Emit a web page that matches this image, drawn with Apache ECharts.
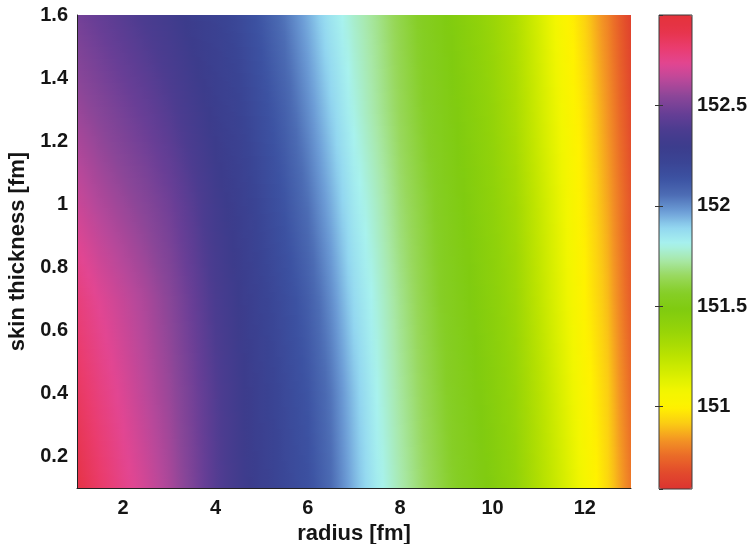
<!DOCTYPE html>
<html>
<head>
<meta charset="utf-8">
<title>skin thickness vs radius</title>
<script src="https://cdn.jsdelivr.net/npm/echarts@6/dist/echarts.min.js"></script>
<style>
  html, body { margin: 0; padding: 0; background: #ffffff; }
  #chart { width: 754px; height: 544px; }
</style>
</head>
<body>
<div id="chart"></div>
<script>
// Grid nodes of the computed surface
const radiusNodes = [1, 1.5, 2, 2.5, 3, 3.5, 4, 4.5, 5, 5.5, 6, 6.5, 7, 7.5, 8, 8.5, 9, 9.5, 10, 10.5, 11, 11.5, 12, 12.5, 13];
const thicknessNodes = [0.1, 0.4, 0.7, 1.0, 1.3, 1.6];

// Values along radius, one row per skin thickness node
const rowT010 = [152.88, 152.80, 152.73, 152.67, 152.60, 152.51, 152.41, 152.33, 152.26, 152.20, 152.15, 152.06, 151.94, 151.83, 151.74, 151.66, 151.59, 151.53, 151.47, 151.40, 151.29, 151.18, 151.06, 150.94, 150.78];
const rowT040 = [152.82, 152.75, 152.69, 152.63, 152.57, 152.49, 152.40, 152.32, 152.25, 152.19, 152.13, 152.04, 151.92, 151.81, 151.72, 151.64, 151.57, 151.51, 151.45, 151.38, 151.27, 151.15, 151.03, 150.92, 150.75];
const rowT070 = [152.76, 152.70, 152.65, 152.60, 152.54, 152.46, 152.37, 152.30, 152.23, 152.17, 152.10, 152.00, 151.88, 151.79, 151.70, 151.62, 151.55, 151.49, 151.43, 151.36, 151.24, 151.12, 151.00, 150.89, 150.72];
const rowT100 = [152.66, 152.61, 152.57, 152.53, 152.48, 152.41, 152.33, 152.27, 152.20, 152.13, 152.05, 151.95, 151.84, 151.76, 151.67, 151.60, 151.53, 151.47, 151.41, 151.34, 151.22, 151.10, 150.98, 150.86, 150.70];
const rowT130 = [152.57, 152.53, 152.49, 152.45, 152.40, 152.34, 152.28, 152.23, 152.16, 152.09, 152.00, 151.90, 151.80, 151.72, 151.64, 151.57, 151.51, 151.45, 151.39, 151.31, 151.19, 151.07, 150.96, 150.83, 150.67];
const rowT160 = [152.49, 152.45, 152.41, 152.37, 152.33, 152.28, 152.24, 152.19, 152.12, 152.04, 151.95, 151.85, 151.77, 151.70, 151.62, 151.55, 151.49, 151.43, 151.37, 151.29, 151.17, 151.04, 150.93, 150.80, 150.64];
const valueRows = [rowT010, rowT040, rowT070, rowT100, rowT130, rowT160];

// Colour scale (low -> high), evenly spaced over the colour range
const colorRange = [150.59, 152.95];
const colorbarColors = [
  '#dc3430', '#e24a2c', '#ea6a28', '#f39424', '#fbcc14', '#fff200',
  '#f2f600', '#d8ee00', '#bee400', '#a6da04', '#90d20a', '#80cb10',
  '#86ce26', '#98d85c', '#a8e8a8', '#a8f2ee', '#92d6f0', '#6c9cd6',
  '#4c6cb4', '#3c52a2', '#3a4494', '#3c3c8c', '#4c3c90', '#683e96',
  '#8a4698', '#b8489a', '#e24692', '#ea3c6e', '#e6344a', '#e4323a'
];

const FONT = '"Liberation Sans", Arial, Helvetica, sans-serif';
const INK = '#151515';

function hexToRgb(h) {
  return [parseInt(h.slice(1, 3), 16), parseInt(h.slice(3, 5), 16), parseInt(h.slice(5, 7), 16)];
}
const rgbStops = colorbarColors.map(hexToRgb);

// Same piecewise-linear mapping the continuous visualMap uses
function colorOf(v) {
  let t = (v - colorRange[0]) / (colorRange[1] - colorRange[0]);
  t = Math.max(0, Math.min(1, t));
  const p = t * (rgbStops.length - 1);
  const i = Math.min(Math.floor(p), rgbStops.length - 2);
  const f = p - i;
  const a = rgbStops[i], b = rgbStops[i + 1];
  return 'rgb(' + Math.round(a[0] + (b[0] - a[0]) * f) + ',' +
    Math.round(a[1] + (b[1] - a[1]) * f) + ',' +
    Math.round(a[2] + (b[2] - a[2]) * f) + ')';
}

// One item per band between two thickness rows: [xFirst, xLast, y0, y1, band]
const bands = [];
for (let j = 0; j < thicknessNodes.length - 1; j++) {
  bands.push([radiusNodes[0], radiusNodes[radiusNodes.length - 1], thicknessNodes[j], thicknessNodes[j + 1], j]);
}

// Smooth shading of a band: thin horizontal strips, each with a gradient through the nodes
function renderBand(params, api) {
  const x0 = api.value(0), y0 = api.value(2), y1 = api.value(3), j = api.value(4);
  const lower = valueRows[j], upper = valueRows[j + 1];
  const yTop = Math.round(api.coord([x0, y1])[1]);
  const yBot = Math.round(api.coord([x0, y0])[1]);
  const xs = radiusNodes.map(function (r) { return api.coord([r, y0])[0]; });
  const xL = Math.round(xs[0]), xR = Math.round(xs[xs.length - 1]);
  const sub = 4;
  const children = [];
  for (let ya = yTop; ya < yBot; ya += 2) {
    const yb = Math.min(ya + 2, yBot);
    const t = (yBot - (ya + yb) / 2) / (yBot - yTop);
    const colorStops = [];
    for (let i = 0; i < xs.length - 1; i++) {
      const vl = lower[i] + (upper[i] - lower[i]) * t;
      const vr = lower[i + 1] + (upper[i + 1] - lower[i + 1]) * t;
      for (let k = 0; k < sub; k++) {
        const u = k / sub;
        const px = xs[i] + (xs[i + 1] - xs[i]) * u;
        colorStops.push({ offset: (px - xL) / (xR - xL), color: colorOf(vl + (vr - vl) * u) });
      }
    }
    const last = xs.length - 1;
    colorStops.push({ offset: 1, color: colorOf(lower[last] + (upper[last] - lower[last]) * t) });
    children.push({
      type: 'rect',
      shape: { x: xL, y: ya, width: xR - xL, height: yb - ya },
      style: { fill: { type: 'linear', x: 0, y: 0, x2: 1, y2: 0, colorStops: colorStops } },
      silent: true
    });
  }
  return { type: 'group', children: children };
}

const tickStyle = { fontFamily: FONT, fontWeight: 'bold', fontSize: 20, color: INK };
const titleStyle = { fontFamily: FONT, fontWeight: 'bold', fontSize: 22, color: INK };

const chart = echarts.init(document.getElementById('chart'), null, { renderer: 'canvas' });
chart.setOption({
  backgroundColor: '#ffffff',
  animation: false,
  grid: [
    { left: 77, right: 123, top: 15, bottom: 56, show: false,
      containLabel: false, outerBoundsMode: 'none' },
    { left: 659, width: 33, top: 15, bottom: 55, show: true, z: 10,
      containLabel: false, outerBoundsMode: 'none',
      backgroundColor: 'transparent', borderColor: '#3a3a3a', borderWidth: 1 }
  ],
  xAxis: [
    {
      gridIndex: 0, type: 'value', min: 1, max: 13, z: 10,
      name: 'radius [fm]', nameLocation: 'middle', nameGap: 32,
      nameTextStyle: titleStyle,
      axisLine: { show: true, lineStyle: { color: '#222', width: 1 } },
      axisTick: { show: false },
      splitLine: { show: false },
      axisLabel: Object.assign({ margin: 10, showMinLabel: false, showMaxLabel: false }, tickStyle)
    },
    { gridIndex: 1, type: 'value', min: 0, max: 1, show: false }
  ],
  yAxis: [
    {
      gridIndex: 0, type: 'value', min: 0.1, max: 1.6, splitNumber: 7, z: 10,
      name: 'skin thickness [fm]', nameLocation: 'middle', nameGap: 48,
      nameTextStyle: titleStyle,
      axisLine: { show: true, lineStyle: { color: '#222', width: 1 } },
      axisTick: { show: false },
      splitLine: { show: false },
      axisLabel: Object.assign({ margin: 9, showMinLabel: false }, tickStyle)
    },
    {
      gridIndex: 1, type: 'value', position: 'right', min: colorRange[0], max: colorRange[1], z: 11,
      axisLine: { show: false },
      axisTick: { show: true, inside: true, length: 4, lineStyle: { color: '#333' } },
      splitLine: { show: false },
      axisLabel: Object.assign({ margin: 5, showMinLabel: false, showMaxLabel: false }, tickStyle)
    },
    {
      gridIndex: 1, type: 'value', position: 'left', min: colorRange[0], max: colorRange[1], z: 11,
      axisLine: { show: false },
      axisTick: { show: true, inside: true, length: 4, lineStyle: { color: '#333' } },
      splitLine: { show: false },
      axisLabel: { show: false }
    }
  ],
  visualMap: {
    type: 'continuous',
    min: colorRange[0], max: colorRange[1],
    seriesIndex: 1,
    calculable: false, hoverLink: false,
    orient: 'vertical',
    left: 659, top: 15, padding: 0,
    itemWidth: 33, itemHeight: 474,
    text: null, showLabel: false,
    inRange: { color: colorbarColors }
  },
  series: [
    {
      type: 'custom',
      xAxisIndex: 0, yAxisIndex: 0,
      clip: true,
      renderItem: renderBand,
      encode: { x: [0, 1], y: [2, 3] },
      data: bands,
      z: 2
    },
    {
      type: 'scatter', xAxisIndex: 1, yAxisIndex: 1, data: [], silent: true
    }
  ]
});
</script>
</body>
</html>
